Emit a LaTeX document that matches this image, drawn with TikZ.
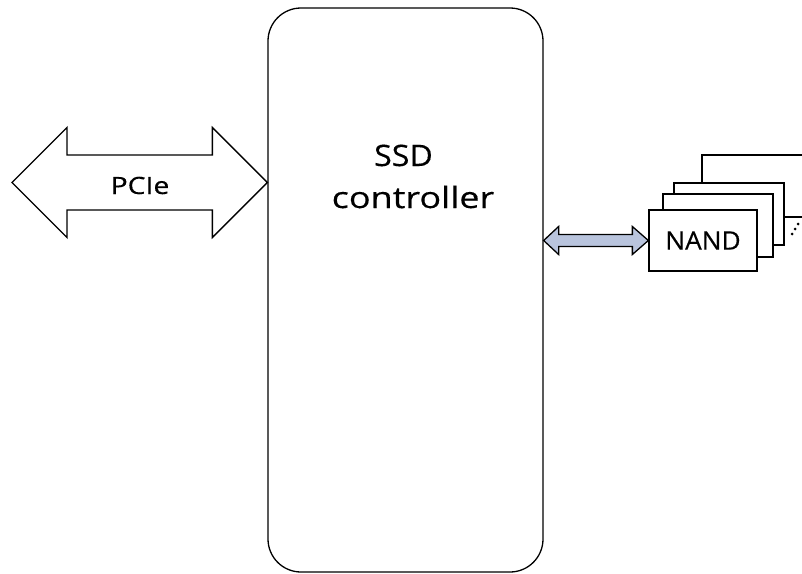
\documentclass[tikz,border=0pt]{standalone}
\usepackage{fontspec}
\setmainfont{Open Sans}
\newfontfamily\ssdfont[FakeStretch=1.09,FakeBold=0.4]{Open Sans}
\newfontfamily\ctrlfont[FakeStretch=1.22,FakeBold=0.4]{Open Sans}
\newfontfamily\pciefont[FakeStretch=1.19,FakeBold=0.4]{Open Sans}
\newfontfamily\nandfont[FakeStretch=1.03,FakeBold=0.4]{Open Sans}
\usetikzlibrary{calc}
\definecolor{linkblue}{RGB}{185,196,221}
\begin{document}
\begin{tikzpicture}[x=1pt,y=-1pt,line width=1.3pt,line join=miter,
  chip/.style={draw,fill=white,inner sep=0pt,line width=1.3pt},
  bigarrow/.style={draw,fill=white,line width=1.3pt},
  busarrow/.style={draw,fill=linkblue,line width=1.3pt}]
\useasboundingbox (0,0) rectangle (802,573);
\clip (0,0) rectangle (802,573);
% controller
\node[draw,rounded corners=33pt,minimum width=275pt,minimum height=564pt,inner sep=0pt] (ctrl) at (405.5,290) {};
\node[anchor=base,inner sep=0pt,font=\ssdfont\fontsize{29.5}{34}\selectfont] (ssd) at (403.5,166) {SSD};
\node[anchor=base,inner sep=0pt,font=\ctrlfont\fontsize{29.5}{34}\selectfont] (ctrlword) at (413,208) {controller};
% PCIe arrow
\coordinate (pL) at (12,182.5);
\coordinate (pR) at (ctrl.west |- pL);
\draw[bigarrow] (pL) -- ($(pL)+(55,-55)$) -- ($(pL)+(55,-27.5)$) -- ($(pR)+(-55,-27.5)$) -- ($(pR)+(-55,-55)$)
  -- (pR) -- ($(pR)+(-55,55)$) -- ($(pR)+(-55,27.5)$) -- ($(pL)+(55,27.5)$) -- ($(pL)+(55,55)$) -- cycle;
\node[inner sep=0pt,anchor=base,font=\pciefont\fontsize{23.8}{28}\selectfont] (pcie) at (140,194) {PCIe};
% NAND stack
\node[chip,minimum width=138pt,minimum height=62pt] (nand4) at (771,186) {};
\node[chip,minimum width=110pt,minimum height=62pt] (nand3) at (729,214) {};
\node[chip,minimum width=110pt,minimum height=63pt] (nand2) at (718,225.5) {};
\node[chip,minimum width=108pt,minimum height=61pt,font=\nandfont\fontsize{25.5}{30}\selectfont] (nand1) at (703,240.5) {NAND};
\fill (792,234) circle (1.5pt) (795,229) circle (1.5pt) (798,224) circle (1.5pt);
% bus arrow
\coordinate (bR) at (nand1.west);
\coordinate (bL) at (ctrl.east |- bR);
\draw[busarrow] (bL) -- ($(bL)+(15,-14)$) -- ($(bL)+(15,-6)$) -- ($(bR)+(-16,-6)$) -- ($(bR)+(-16,-14)$)
  -- (bR) -- ($(bR)+(-16,14)$) -- ($(bR)+(-16,6)$) -- ($(bL)+(15,6)$) -- ($(bL)+(15,14)$) -- cycle;
\end{tikzpicture}
\end{document}
